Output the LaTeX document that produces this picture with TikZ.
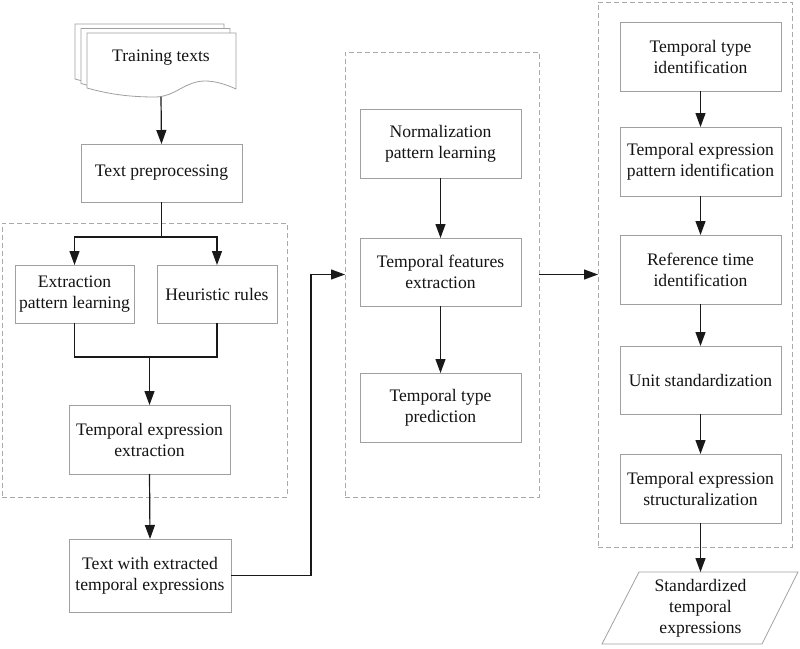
\documentclass[tikz,border=0pt]{standalone}
\usepackage{fontspec}
\setmainfont{Liberation Serif}
\newfontfamily\tnr{Liberation Serif}
\usetikzlibrary{arrows.meta}
\definecolor{boxgray}{RGB}{160,160,160}
\definecolor{dashgray}{RGB}{170,170,170}
\definecolor{linec}{RGB}{25,25,25}
\definecolor{textc}{RGB}{20,20,20}
\begin{document}
\begin{tikzpicture}[x=1pt,y=-1pt,
  every node/.style={font=\tnr\fontsize{17.6}{21}\selectfont, text=textc, outer sep=0pt, inner sep=0pt, align=center},
  proc/.style={draw=boxgray, line width=0.8pt, fill=white},
  grp/.style={draw=dashgray, line width=0.8pt, dash pattern=on 5pt off 3pt},
  ln/.style={draw=linec, line width=1.2pt},
  arr/.style={draw=linec, line width=1.2pt, -{Triangle[length=14pt,width=10pt]}}
]
\useasboundingbox (0,0) rectangle (800,648);
\fill[white] (0,0) rectangle (800,648);

% group boxes
\node[grp, minimum width=285pt, minimum height=274pt] (b1) at (144.5,360) {};
\node[grp, minimum width=194pt, minimum height=445pt] (b2) at (442,274.5) {};
\node[grp, minimum width=194pt, minimum height=545pt] (b3) at (695,274.5) {};

% training texts (stacked documents)
\foreach \dx/\dy in {-12/-9,-6/-4.5,0/0}{
  \draw[shift={(\dx,\dy)}, boxgray, line width=0.8pt, fill=white]
    (87,33) -- (236,33) -- (236,89)
    .. controls (225,84) and (215,81) .. (205,81)
    .. controls (185,81) and (175,97) .. (155,97)
    .. controls (125,97) and (105,93) .. (87,88) -- cycle;
}
\node (train) at (161,58) {Training texts};
\coordinate (trainbot) at (161,96.8);

% left column
\node[proc, minimum width=161pt, minimum height=58pt] (tp) at (161.5,173) {Text preprocessing};
\node[proc, minimum width=119pt, minimum height=58pt] (epl) at (74.5,294) {Extraction\\pattern learning};
\node[proc, minimum width=120pt, minimum height=58pt] (hr) at (217,294) {Heuristic rules};
\node[proc, minimum width=161pt, minimum height=69pt] (tee) at (149.5,439.5) {Temporal expression\\extraction};
\node[proc, minimum width=162pt, minimum height=73pt] (twe) at (150,575.5) {Text with extracted\\temporal expressions};

% middle column
\node[proc, minimum width=161pt, minimum height=69pt] (npl) at (440.5,143.5) {Normalization\\pattern learning};
\node[proc, minimum width=161pt, minimum height=68pt] (tfe) at (440.5,272) {Temporal features\\extraction};
\node[proc, minimum width=161pt, minimum height=69pt] (ttp) at (440.5,407.5) {Temporal type\\prediction};

% right column
\node[proc, minimum width=161pt, minimum height=69pt] (tti) at (700.5,56.5) {Temporal type\\identification};
\node[proc, minimum width=161pt, minimum height=69pt] (tepi) at (700.5,161.5) {Temporal expression\\pattern identification};
\node[proc, minimum width=161pt, minimum height=69pt] (rti) at (700.5,269.5) {Reference time\\identification};
\node[proc, minimum width=161pt, minimum height=68pt] (us) at (700.5,380) {Unit standardization};
\node[proc, minimum width=161pt, minimum height=69pt] (tes) at (700.5,488.5) {Temporal expression\\structuralization};

% output parallelogram
\draw[boxgray, line width=0.8pt, fill=white] (639,572) -- (798,572) -- (762,644) -- (602,644) -- cycle;
\node[minimum width=120pt, minimum height=72pt] (out) at (700.5,608) {Standardized\\temporal\\expressions};

% connectors
\draw[arr] (trainbot) -- (tp.north);
\coordinate (sp) at (161.5,237);
\draw[ln] (tp.south) -- (sp);
\draw[arr] (sp) -| (epl.north);
\draw[arr] (sp) -| (hr.north);
\coordinate (jn) at (149.5,357);
\draw[ln] (epl.south) |- (jn);
\draw[ln] (hr.south) |- (jn);
\draw[arr] (jn) -- (tee.north);
\draw[arr] (tee.south) -- (twe.north);
\coordinate (c1) at (311,274.5);
\draw[arr] (twe.east) -| (c1) -- (b2.west);

\draw[arr] (npl.south) -- (tfe.north);
\draw[arr] (tfe.south) -- (ttp.north);
\draw[arr] (b2.east) -- (b3.west);

\draw[arr] (tti.south) -- (tepi.north);
\draw[arr] (tepi.south) -- (rti.north);
\draw[arr] (rti.south) -- (us.north);
\draw[arr] (us.south) -- (tes.north);
\draw[arr] (tes.south) -- (out.north);
\end{tikzpicture}
\end{document}
